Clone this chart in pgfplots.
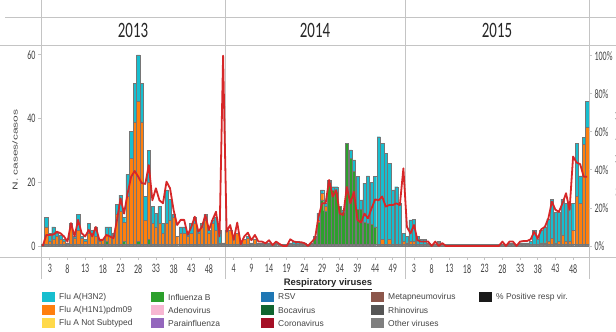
\documentclass[border=0pt]{standalone}
\usepackage{fontspec}
\setmainfont{Liberation Sans}
\newfontfamily\carlito{Carlito}
\usepackage{graphicx}
\usepackage{pgfplots}
\pgfplotsset{compat=1.18}
\usepackage{pgfplotstable}

\definecolor{cH3}{HTML}{17BECF}
\definecolor{cH1}{HTML}{FF7F0E}
\definecolor{cNS}{HTML}{FFD94A}
\definecolor{cB}{HTML}{2CA02C}
\definecolor{cAd}{HTML}{F7B6D2}
\definecolor{cPara}{HTML}{9467BD}
\definecolor{cRSV}{HTML}{1F77B4}
\definecolor{cBoca}{HTML}{116530}
\definecolor{cCorona}{HTML}{A50F26}
\definecolor{cMeta}{HTML}{8C564B}
\definecolor{cRhino}{HTML}{555555}
\definecolor{cOther}{HTML}{7F7F7F}
\definecolor{cPos}{HTML}{1A1A1A}
\definecolor{cLine}{HTML}{D62728}
\definecolor{frm}{HTML}{C4C4C4}
\definecolor{barline}{HTML}{767676}
\definecolor{txt}{HTML}{444444}

\newcommand{\sq}[1]{\scalebox{0.62}[1]{#1}}
\newcommand{\tickfont}{\carlito\fontsize{13}{13}\selectfont\color{txt}}

% i: 2013 wk1-52 -> 1..52 ; 2014 wk2-52 -> 53..103 ; 2015 wk1-52 -> 104..155
\pgfplotstableread{
i other B H1 H3 pct
1 0.5 0 0 0 0
2 0.5 0 5.5 3 5.8
3 0.5 0 1 2.5 5.8
4 0.5 0 1.5 4 6
5 0.5 0 2.5 1 7.5
6 0.5 0 1.5 1.5 6.7
7 0.5 0 1 0.5 5
8 0.5 0 0.5 0 2.3
9 0.5 0 5.5 1 12
10 0.5 0 2 0.5 5
11 0.5 0 4.5 5 13.7
12 0.5 0 2 0.5 6.7
13 0.5 0 1 0.5 5
14 0.5 0 3.5 3 8.4
15 0.5 0 3.5 1 5
16 0.5 0 2.5 3 10
17 0.5 0 1 0.5 3.2
18 0.5 0 1.5 0 3.2
19 0.5 1 2 2.5 5.8
20 0.5 0 2.5 3 5
21 0.5 0 2.5 1 4
22 0.5 0 9.5 3 13.7
23 0.5 0 10.5 5 25
24 0.5 1 6 1.5 17
25 0.5 0 15 7 27.7
26 0.5 0 27 8.5 36.4
27 0.5 0 38.5 12 39.4
28 0.5 1 44 14.5 36.4
29 0.5 0 38.5 12 33
30 0.5 0 7.5 7.5 32.6
31 0.5 1.5 18 10 42.5
32 0.5 0 6.5 5.4 24
33 0.5 0 5.5 4.3 30.3
34 0.5 0 6.5 5.4 24
35 0.5 0 3.5 3 22.4
36 0.5 0 6.5 10.6 33.8
37 0.5 0 7.5 6.7 30.3
38 0.5 0 8.5 1 18.9
39 0.5 0 2.5 0 11
40 0.5 0 3.5 2 13.7
41 0.5 0 3.5 2 13.7
42 0.5 0 2.5 1 5.8
43 0.5 0 3.5 3 10
44 0.5 0 6.5 2 15.4
45 0.5 0 3.5 1 7.5
46 0.5 0 5.5 1 10
47 0.5 0 7.5 2 16.3
48 0.5 0 3.5 1 8.4
49 0.5 0 6.5 1 13.7
50 0.5 0 4.5 4 18
51 0.5 0 0.5 4 5
52 0.5 0 0.5 0 100
53 0.5 0 4 0.5 7.5
54 0.5 0 4.5 0 11
55 0.5 0 1.5 0 3.2
56 0.5 0 3.5 0 12.3
57 0.5 0 0 0 1
58 0.5 0 1.5 0 5
59 0.5 0 2 0.5 7
60 0.5 0 0.5 0 3
61 0.5 0 1.5 0 5.8
62 0.5 0 0.5 0 2.3
63 0.5 0 0.5 0 2.3
64 0.5 0 0 0.5 1.4
65 0.5 0 0 0.5 3
66 0.5 0 0 0 0.5
67 0.5 0 0 0.5 2.3
68 0.5 0 0 0 1
69 0.5 0 0 0 0
70 0.5 0 0 0 0
71 0.5 0 0 0.5 3.5
72 0.5 0 0 1 2.3
73 0.5 0 0 1 2
74 0.5 0 0 0.5 2
75 0.5 0 0 0.5 1.5
76 0.5 0 0 0 0
77 0.5 0 0 0.5 2
78 0.5 2 0 0.5 4
79 0.5 7 0.5 2.3 15.4
80 0.5 14 2 1.1 22.4
81 0.5 10.5 1.5 0.9 22.4
82 0.5 18.5 0 1.7 34.7
83 0.5 17 0 1.1 26
84 0.5 16.5 0 1.6 29.4
85 0.5 11.9 0 0 17
86 0.5 10 0 0.8 16.3
87 0.5 31.8 0 0 31
88 0.5 27 0 2.7 22.4
89 0.5 23 0 3.5 28.5
90 0.5 11 0 10.3 13.7
91 0.5 11 0 3 12.3
92 0.5 7 0 12.2 17
93 0.5 6.5 0 15 14.5
94 0.5 6.3 0 13.1 19.8
95 0.5 5.5 0 15.8 24.5
96 0.5 0 0 33.8 24
97 0.5 0 1.5 30.3 26
98 0.5 0 0 28.5 20.7
99 0.5 0 1.5 24 21.5
100 0.5 0 0 17.1 21.5
101 0.5 0 0 18.1 22.4
102 0.5 0 0 12.9 21.5
103 0.5 0 1 2.5 40.8
104 0.5 0 0.5 2 10
105 0.5 0 1 6.7 6.6
106 0.5 0 1 6.9 11
107 0.5 0 0 2.5 3
108 0.5 0 0 1.5 2.3
109 0.5 0 0 1.5 2.3
110 0.5 0 0 0.5 2.3
111 0.5 0 0 0 0
112 0.5 0 0 0 2.3
113 1.4 0 0 0 0
114 0.5 0 0 0 1.5
115 0.5 0 0 0 0
116 0.5 0 0 0 0
117 0.5 0 0 0 0
118 0.5 0 0 0 0
119 0.5 0 0 0 0
120 0.5 0 0 0 0
121 0.5 0 0 0 0
122 0.5 0 0 0 0
123 0.5 0 0 0 0
124 0.5 0 0 0 0
125 0.5 0 0 0 0
126 0.5 0 0 0 0
127 0.5 0 0 0 0
128 0.5 0 0 0 0
129 0.5 0 0 0 0
130 0.5 0 0 0 0
131 0.5 0 0 0 2.3
132 0.5 0 0 0 0
133 0.5 0 0 0.5 2.3
134 0.5 0 0 0.5 2.3
135 0.5 0 0 0 0
136 0.5 0 0 0.5 2.3
137 0.5 0 0 0.5 2.6
138 0.5 0 0 0.5 2.6
139 0.5 0 0 1 3.5
140 0.5 0 0 4.3 7.5
141 0.5 0 0 1.5 4
142 0.5 0 0.5 4 8.8
143 0.5 0 0.5 5 10
144 0.5 0 1 7 14.5
145 0.5 0 2 12.2 23.3
146 0.5 0 0.5 9.5 19
147 0.5 0 1 9 18
148 0.5 0 3 11.2 22.4
149 0.5 0 1 11.9 27.7
150 0.5 0 1 11.9 19
151 0.5 0 4.5 8.4 47
152 0.5 0 15 16.8 43.8
153 0.5 0 12.9 8.6 43
154 0.5 0 31.5 2 36.4
155 0.5 0 36.8 8.2 36.4
}\data

\begin{document}
\begin{tikzpicture}[x=1bp,y=1bp]
\useasboundingbox (0,0) rectangle (616,331);

% frame lines
\begin{scope}[draw=frm, line width=1bp]
\draw (5,313.3) -- (616,313.3);
\draw (0,286) -- (616,286);
\draw (0,74) -- (616,74);
\foreach \xx in {41,225,405.5,589} \draw (\xx,52) -- (\xx,331);
\end{scope}

% year headers
\foreach \xx/\yy in {133/2013,315/2014,497/2015}
  \node at (\xx,300.5) {\carlito\fontsize{22}{22}\selectfont\color{black!85}\scalebox{0.68}[1]{\yy}};

\begin{axis}[
  at={(41bp,74bp)}, anchor=south west,
  width=548bp, height=212bp, scale only axis,
  xmin=0.5, xmax=155.5, ymin=-3.46, ymax=63.1,
  axis line style={draw=none},
  ybar stacked, bar width=0.92,
  tick align=outside, major tick length=3bp,
  tick style={draw=frm, line width=0.8bp},
  xtick pos=lower, ytick pos=left,
  xtick={3,8,13,18,23,28,33,38,43,48,55,60,65,70,75,80,85,90,95,100,106,111,116,121,126,131,136,141,146,151},
  xticklabels={\sq{3},\sq{8},\sq{13},\sq{18},\sq{23},\sq{28},\sq{33},\sq{38},\sq{43},\sq{48},
               \sq{4},\sq{9},\sq{14},\sq{19},\sq{24},\sq{29},\sq{34},\sq{39},\sq{44},\sq{49},
               \sq{3},\sq{8},\sq{13},\sq{18},\sq{23},\sq{28},\sq{33},\sq{38},\sq{43},\sq{48}},
  ytick={0,20,40,60},
  yticklabels={\sq{0},\sq{20},\sq{40},\sq{60}},
  ticklabel style={font=\tickfont},
  xticklabel style={yshift=-1bp},
  yticklabel style={xshift=1bp},
  every axis plot/.append style={draw=barline, line width=0.4bp},
]
\addplot[fill=cOther] table[x=i,y=other]{\data};
\addplot[fill=cB] table[x=i,y=B]{\data};
\addplot[fill=cH1] table[x=i,y=H1]{\data};
\addplot[fill=cH3] table[x=i,y=H3]{\data};
\end{axis}

\begin{axis}[
  at={(41bp,74bp)}, anchor=south west,
  width=548bp, height=212bp, scale only axis,
  xmin=0.5, xmax=155.5, ymin=-5.8, ymax=105.6,
  axis line style={draw=none},
  tick align=outside, major tick length=3bp,
  tick style={draw=frm, line width=0.8bp},
  xtick=\empty, ytick pos=right,
  ytick={0,20,40,60,80,100},
  yticklabels={\sq{0\%},\sq{20\%},\sq{40\%},\sq{60\%},\sq{80\%},\sq{100\%}},
  ticklabel style={font=\tickfont},
  yticklabel style={xshift=-1bp},
]
\addplot[cLine, line width=1.8bp, line join=round] table[x=i,y=pct]{\data};
\end{axis}

% axis titles
\node[rotate=90] at (15,181) {\fontsize{12}{12}\selectfont\color{txt}\scalebox{1}[0.6]{N. cases/casos}};
\node[rotate=90] at (619,186) {\fontsize{12}{12}\selectfont\color{txt}\scalebox{1}[0.6]{\% positive/positivos}};

% legend
\node at (328,47) {\fontsize{9.5}{9.5}\selectfont\color{black!85}\underline{\textbf{Respiratory viruses}}};
\foreach \xx/\yy/\cc/\tt in {
  42/34/cH3/{Flu A(H3N2)},
  42/21/cH1/{Flu A(H1N1)pdm09},
  42/8/cNS/{Flu A Not Subtyped},
  151/34/cB/{Influenza B},
  151/21/cAd/{Adenovirus},
  151/8/cPara/{Parainfluenza},
  261/34/cRSV/{RSV},
  261/21/cBoca/{Bocavirus},
  261/8/cCorona/{Coronavirus},
  371/34/cMeta/{Metapneumovirus},
  371/21/cRhino/{Rhinovirus},
  371/8/cOther/{Other viruses},
  479/34/cPos/{\% Positive resp vir.}}
{
  \fill[\cc] (\xx,\yy-5) rectangle ++(13,10);
  \node[anchor=west, inner sep=0pt] at (\xx+17,\yy) {\fontsize{8.5}{8.5}\selectfont\color{txt}\tt};
}
\end{tikzpicture}
\end{document}
